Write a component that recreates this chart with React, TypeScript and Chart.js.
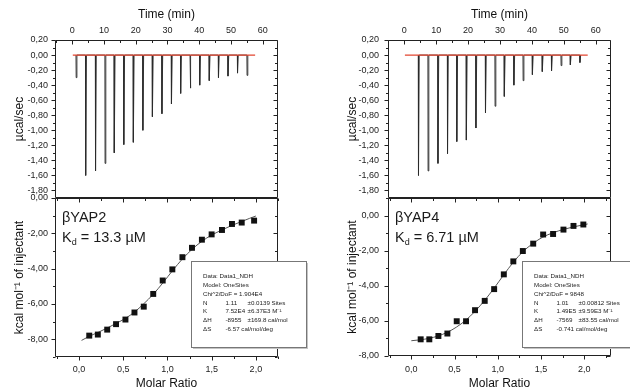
import React, { useEffect, useRef } from 'react';
import { Chart, registerables } from 'chart.js';

Chart.register(...registerables);

const FONT = 'Arial, "Liberation Sans", Helvetica, sans-serif';

// ---- tick labels ----
const TIME_TICKS = [0, 10, 20, 30, 40, 50, 60];
const POWER_TICKS = [0.2, 0, -0.2, -0.4, -0.6, -0.8, -1.0, -1.2, -1.4, -1.6, -1.8];
const RATIO_TICKS = [0, 0.5, 1.0, 1.5, 2.0];
const HEAT_TICKS = [0, -2, -4, -6, -8];

// ---- βYAP2 raw thermogram (injection time, peak depth) ----
const YAP2_INJ_TIME = [1.2, 4.2, 7.3, 10.3, 13.2, 16.2, 19.2, 22.2, 25.2, 28.2, 31.2, 34.1, 37.1, 40.1, 43.1, 46.0, 49.0, 52.0, 55.0];
const YAP2_INJ_PEAK = [-0.30, -1.60, -1.54, -1.44, -1.30, -1.19, -1.16, -1.00, -0.82, -0.78, -0.65, -0.51, -0.44, -0.40, -0.34, -0.30, -0.28, -0.24, -0.27];
const YAP2_BASELINE = [0.2, 57.6];

// ---- βYAP4 raw thermogram ----
const YAP4_INJ_TIME = [4.4, 7.4, 10.5, 13.5, 16.4, 19.4, 22.4, 25.4, 28.4, 31.3, 34.3, 37.2, 40.1, 43.2, 46.1, 49.1, 52.0, 55.0];
const YAP4_INJ_PEAK = [-1.60, -1.54, -1.44, -1.31, -1.15, -1.13, -0.97, -0.77, -0.68, -0.55, -0.40, -0.34, -0.26, -0.22, -0.21, -0.14, -0.13, -0.10];
const YAP4_BASELINE = [0.2, 57.5];

// ---- βYAP2 integrated heats ----
const YAP2_RATIO = [0.117, 0.214, 0.32, 0.42, 0.526, 0.628, 0.733, 0.84, 0.947, 1.056, 1.17, 1.278, 1.39, 1.50, 1.617, 1.73, 1.84, 1.98];
const YAP2_HEAT = [-7.79, -7.73, -7.45, -7.14, -6.88, -6.48, -6.15, -5.43, -4.67, -4.04, -3.35, -2.82, -2.36, -2.06, -1.81, -1.47, -1.39, -1.28];
const YAP2_FIT_X = [0.03, 0.12, 0.22, 0.32, 0.42, 0.53, 0.63, 0.73, 0.84, 0.95, 1.06, 1.17, 1.28, 1.39, 1.50, 1.62, 1.73, 1.84, 1.93, 2.00];
const YAP2_FIT_Y = [-8.06, -7.82, -7.6, -7.36, -7.1, -6.8, -6.45, -6.0, -5.45, -4.8, -4.1, -3.45, -2.9, -2.45, -2.1, -1.8, -1.55, -1.33, -1.15, -1.02];

// ---- βYAP4 integrated heats ----
const YAP4_RATIO = [0.108, 0.208, 0.313, 0.417, 0.525, 0.633, 0.737, 0.849, 0.958, 1.07, 1.18, 1.29, 1.41, 1.525, 1.64, 1.76, 1.876, 1.99];
const YAP4_HEAT = [-7.05, -7.05, -6.86, -6.72, -6.02, -6.02, -5.39, -4.86, -4.19, -3.35, -2.61, -2.02, -1.60, -1.08, -1.05, -0.80, -0.59, -0.51];
const YAP4_FIT_X = [0.0, 0.1, 0.2, 0.31, 0.42, 0.52, 0.63, 0.74, 0.85, 0.96, 1.07, 1.18, 1.29, 1.41, 1.52, 1.64, 1.76, 1.88, 1.99, 2.04];
const YAP4_FIT_Y = [-7.13, -7.08, -7.0, -6.86, -6.64, -6.36, -5.96, -5.44, -4.82, -4.12, -3.37, -2.66, -2.06, -1.58, -1.23, -0.98, -0.79, -0.64, -0.53, -0.48];

// ---- labels ----
const YAP2_LABEL = 'βYAP2';
const YAP2_KD = '13.3';
const YAP4_LABEL = 'βYAP4';
const YAP4_KD = '6.71';
const YAP2_PARAMS: (string | string[])[] = [
  'Data: Data1_NDH', 'Model: OneSites', 'Chi^2/DoF = 1.904E4',
  ['N', '1.11', '±0.0139 Sites'], ['K', '7.52E4', '±6.37E3 M⁻¹'],
  ['ΔH', '-8955', '±169.8 cal/mol'], ['ΔS', '-6.57 cal/mol/deg'],
];
const YAP4_PARAMS: (string | string[])[] = [
  'Data: Data1_NDH', 'Model: OneSites', 'Chi^2/DoF = 9848',
  ['N', '1.01', '±0.00812 Sites'], ['K', '1.49E5', '±9.59E3 M⁻¹'],
  ['ΔH', '-7569', '±83.55 cal/mol'], ['ΔS', '-0.741 cal/mol/deg'],
];

function multiplesIn(min: number, max: number, step: number) {
  const out: number[] = [];
  const s = Math.ceil(min / step - 1e-6);
  const e = Math.floor(max / step + 1e-6);
  for (let k = s; k <= e; k++) out.push(+(k * step).toFixed(6));
  return out;
}
function isMultiple(v: number, step: number) {
  const r = v / step;
  return Math.abs(r - Math.round(r)) < 1e-6;
}
function fmt(v: number, dec: number) {
  return dec === 0 ? String(Math.round(v)) : Number(v).toFixed(dec).replace('.', ',');
}

function thermoDatasets(times: number[], peaks: number[], base: number[]) {
  const pts: { x: number; y: number }[] = [];
  times.forEach((t, i) => {
    pts.push({ x: t, y: 0 }, { x: t + 0.06, y: peaks[i] }, { x: t + 0.3, y: 0 });
  });
  return [
    {
      data: [{ x: base[0], y: 0 }, { x: base[1], y: 0 }],
      showLine: true, borderColor: '#e2452f', borderWidth: 1.2, pointRadius: 0, tension: 0,
    },
    {
      data: pts, showLine: true, borderColor: '#2a2a2a', borderWidth: 0.9, pointRadius: 0, tension: 0,
    },
  ];
}

function isoDatasets(rx: number[], hy: number[], fx: number[], fy: number[]) {
  return [
    {
      data: rx.map((x, i) => ({ x, y: hy[i] })),
      showLine: false, pointStyle: 'rect', pointRadius: 4.2, backgroundColor: '#111', borderWidth: 0,
    },
    {
      data: fx.map((x, i) => ({ x, y: fy[i] })),
      showLine: true, borderColor: '#555', borderWidth: 1, pointRadius: 0, cubicInterpolationMode: 'monotone',
    },
  ];
}

function isoAnnotate(label: string, kd: string, lines: (string | string[])[], boxDX: number, boxW: number) {
  return (chart: any) => {
    const { ctx, chartArea: a } = chart;
    ctx.save();
    ctx.fillStyle = '#1a1a1a';
    ctx.textAlign = 'left';
    ctx.textBaseline = 'alphabetic';
    const x0 = a.left + 7;
    ctx.font = `14.5px ${FONT}`;
    ctx.fillText(label, x0, a.top + 24);
    ctx.fillText('K', x0, a.top + 43.5);
    let x = x0 + ctx.measureText('K').width;
    ctx.font = `9px ${FONT}`;
    ctx.fillText('d', x, a.top + 47);
    x += ctx.measureText('d').width;
    ctx.font = `14.5px ${FONT}`;
    ctx.fillText(` = ${kd} µM`, x, a.top + 43.5);
    // parameter box
    const bx = Math.round(a.left + boxDX) + 0.5;
    const by = Math.round(a.top + 63) + 0.5;
    const bh = 86;
    ctx.fillStyle = '#c4c4c4';
    ctx.fillRect(bx + 1.5, by + 1.5, boxW, bh);
    ctx.fillStyle = '#fff';
    ctx.fillRect(bx, by, boxW, bh);
    ctx.strokeStyle = '#777';
    ctx.lineWidth = 1;
    ctx.strokeRect(bx, by, boxW, bh);
    ctx.fillStyle = '#222';
    ctx.font = `6.2px ${FONT}`;
    ctx.textBaseline = 'middle';
    const offs = [11.5, 34, 56];
    lines.forEach((ln, i) => {
      const y = by + 15 + i * 8.8;
      const cols = Array.isArray(ln) ? ln : [ln];
      cols.forEach((c, j) => ctx.fillText(c, bx + offs[j], y));
    });
    ctx.restore();
  };
}

type Edges = { top?: string; bottom?: string; left?: string; right?: string };

function framePlugin(p: any) {
  return {
    id: 'frameTicks',
    afterDatasetsDraw(chart: any) {
      const { ctx, chartArea: a } = chart;
      const xs = chart.scales.x;
      const ys = chart.scales.y;
      const L = Math.round(a.left) + 0.5;
      const R = Math.round(a.right) - 0.5;
      const T = Math.round(a.top) + 0.5;
      const B = Math.round(a.bottom) - 0.5;
      ctx.save();
      ctx.strokeStyle = '#222';
      ctx.lineWidth = 1;
      ctx.beginPath();
      ctx.rect(L, T, R - L, B - T);
      const MJ = 4;
      const MN = 2.5;
      const xMaj = multiplesIn(xs.min, xs.max, p.xMajor);
      const xMin = multiplesIn(xs.min, xs.max, p.xMinor).filter((v) => !isMultiple(v, p.xMajor));
      const yMaj = multiplesIn(ys.min, ys.max, p.yMajor);
      const yMin = multiplesIn(ys.min, ys.max, p.yMinor).filter((v) => !isMultiple(v, p.yMajor));
      const hTick = (v: number, y: number, d: number, len: number) => {
        const px = Math.round(xs.getPixelForValue(v)) + 0.5;
        ctx.moveTo(px, y);
        ctx.lineTo(px, y + d * len);
      };
      const vTick = (v: number, x: number, d: number, len: number) => {
        const py = Math.round(ys.getPixelForValue(v)) + 0.5;
        ctx.moveTo(x, py);
        ctx.lineTo(x + d * len, py);
      };
      const e: Edges = p.edges;
      if (e.top) {
        const d = e.top === 'in' ? 1 : -1;
        xMaj.forEach((v) => hTick(v, T, d, MJ));
        xMin.forEach((v) => hTick(v, T, d, MN));
      }
      if (e.bottom) {
        const d = e.bottom === 'in' ? -1 : 1;
        xMaj.forEach((v) => hTick(v, B, d, MJ));
        xMin.forEach((v) => hTick(v, B, d, MN));
      }
      if (e.left) {
        const d = e.left === 'in' ? 1 : -1;
        yMaj.forEach((v) => vTick(v, L, d, MJ));
        yMin.forEach((v) => vTick(v, L, d, MN));
      }
      if (e.right) {
        const d = e.right === 'in' ? -1 : 1;
        yMaj.forEach((v) => vTick(v, R, d, MJ));
        yMin.forEach((v) => vTick(v, R, d, MN));
      }
      ctx.stroke();
      ctx.restore();
    },
    afterDraw(chart: any) {
      if (p.annotate) p.annotate(chart);
    },
  };
}

function buildConfig(p: any): any {
  return {
    type: 'scatter',
    data: { datasets: p.datasets },
    options: {
      animation: false,
      responsive: false,
      devicePixelRatio: 1,
      events: [],
      layout: { padding: p.padding },
      plugins: { legend: { display: false }, tooltip: { enabled: false }, title: { display: false } },
      scales: {
        x: {
          type: 'linear',
          position: p.xPos,
          min: p.xMin,
          max: p.xMax,
          grid: { display: false, drawTicks: false },
          border: { display: false },
          ticks: {
            autoSkip: false, maxRotation: 0, minRotation: 0, padding: p.xTickPad,
            font: { family: FONT, size: 9 }, color: '#222',
            callback: (v: number) => fmt(v, p.xDec),
          },
          title: {
            display: true, text: p.xTitle, color: '#111', font: { family: FONT, size: 12 },
            padding: p.xPos === 'top' ? { top: p.xTitlePad, bottom: 0 } : { top: 0, bottom: p.xTitlePad },
          },
          afterBuildTicks: (s: any) => { s.ticks = p.xTicks.map((v: number) => ({ value: v })); },
          afterFit: (s: any) => {
            s.height = p.xHeight;
            s.paddingLeft = 0; s.paddingRight = 0; s.paddingTop = 0; s.paddingBottom = 0;
          },
        },
        y: {
          type: 'linear',
          position: 'left',
          min: p.yMin,
          max: p.yMax,
          grid: { display: false, drawTicks: false },
          border: { display: false },
          ticks: {
            autoSkip: false, padding: p.yTickPad,
            font: { family: FONT, size: 9 }, color: '#222',
            callback: (v: number) => fmt(v, p.yDec),
          },
          title: {
            display: true, text: p.yTitle, color: '#111', font: { family: FONT, size: 12 },
            padding: { top: p.yTitlePad, bottom: 0 },
          },
          afterBuildTicks: (s: any) => { s.ticks = p.yTicks.map((v: number) => ({ value: v })); },
          afterFit: (s: any) => {
            s.width = p.yWidth;
            s.paddingLeft = 0; s.paddingRight = 0; s.paddingTop = 0; s.paddingBottom = 0;
          },
        },
      },
    },
    plugins: [framePlugin(p)],
  };
}

const thermoBase = {
  xPos: 'top', yMin: -1.9, yMax: 0.2, xTicks: TIME_TICKS, yTicks: POWER_TICKS,
  xDec: 0, yDec: 2, xMajor: 10, xMinor: 5, yMajor: 0.2, yMinor: 0.1,
  xTitle: 'Time (min)', yTitle: 'µcal/sec', xHeight: 40, xTickPad: 4.4, xTitlePad: 7.8,
  edges: { top: 'in', left: 'out', right: 'in' },
  top: 0, w: 315, h: 200,
};
const isoBase = {
  xPos: 'bottom', xTicks: RATIO_TICKS, yTicks: HEAT_TICKS,
  xDec: 1, yDec: 2, xMajor: 0.5, xMinor: 0.25, yMajor: 2, yMinor: 1,
  xTitle: 'Molar Ratio', yTitle: 'kcal mol⁻¹ of injectant', xTitlePad: 8.8,
  edges: { top: 'in', bottom: 'out', left: 'out', right: 'in' },
  top: 185, w: 315, h: 215,
};

const PANELS = [
  {
    ...thermoBase, left: 0, xMin: -5.4, xMax: 64.8,
    padding: { left: 0, top: 0, right: 37, bottom: 2 }, yWidth: 55, yTickPad: 7, yTitlePad: 12.8,
    datasets: thermoDatasets(YAP2_INJ_TIME, YAP2_INJ_PEAK, YAP2_BASELINE),
  },
  {
    ...isoBase, left: 0, xMin: -0.27, xMax: 2.25, yMin: -9, yMax: 0,
    padding: { left: 0, top: 13, right: 37, bottom: 0 }, yWidth: 55, xHeight: 43, yTickPad: 7, yTitlePad: 12.8, xTickPad: 7,
    datasets: isoDatasets(YAP2_RATIO, YAP2_HEAT, YAP2_FIT_X, YAP2_FIT_Y),
    annotate: isoAnnotate(YAP2_LABEL, YAP2_KD, YAP2_PARAMS, 136, 115),
  },
  {
    ...thermoBase, left: 315, xMin: -5.1, xMax: 64.8,
    padding: { left: 0, top: 0, right: 19, bottom: 2 }, yWidth: 73, yTickPad: 9, yTitlePad: 30.8,
    datasets: thermoDatasets(YAP4_INJ_TIME, YAP4_INJ_PEAK, YAP4_BASELINE),
  },
  {
    ...isoBase, left: 315, xMin: -0.27, xMax: 2.31, yMin: -8, yMax: 1,
    padding: { left: 0, top: 13, right: 19, bottom: 0 }, yWidth: 73, xHeight: 44, yTickPad: 9, yTitlePad: 30.8, xTickPad: 8,
    datasets: isoDatasets(YAP4_RATIO, YAP4_HEAT, YAP4_FIT_X, YAP4_FIT_Y),
    annotate: isoAnnotate(YAP4_LABEL, YAP4_KD, YAP4_PARAMS, 134, 112),
  },
];

function Panel({ cfg }: { cfg: any }) {
  const ref = useRef<HTMLCanvasElement>(null);
  useEffect(() => {
    const chart = new Chart(ref.current as HTMLCanvasElement, buildConfig(cfg));
    return () => chart.destroy();
  }, [cfg]);
  return (
    <canvas
      ref={ref}
      width={cfg.w}
      height={cfg.h}
      style={{ position: 'absolute', left: cfg.left, top: cfg.top, width: cfg.w, height: cfg.h }}
    />
  );
}

export default function App() {
  return (
    <div style={{ position: 'fixed', left: 0, top: 0, width: 630, height: 389, overflow: 'hidden', background: '#fff' }}>
      {PANELS.map((p, i) => (
        <Panel key={i} cfg={p} />
      ))}
    </div>
  );
}
